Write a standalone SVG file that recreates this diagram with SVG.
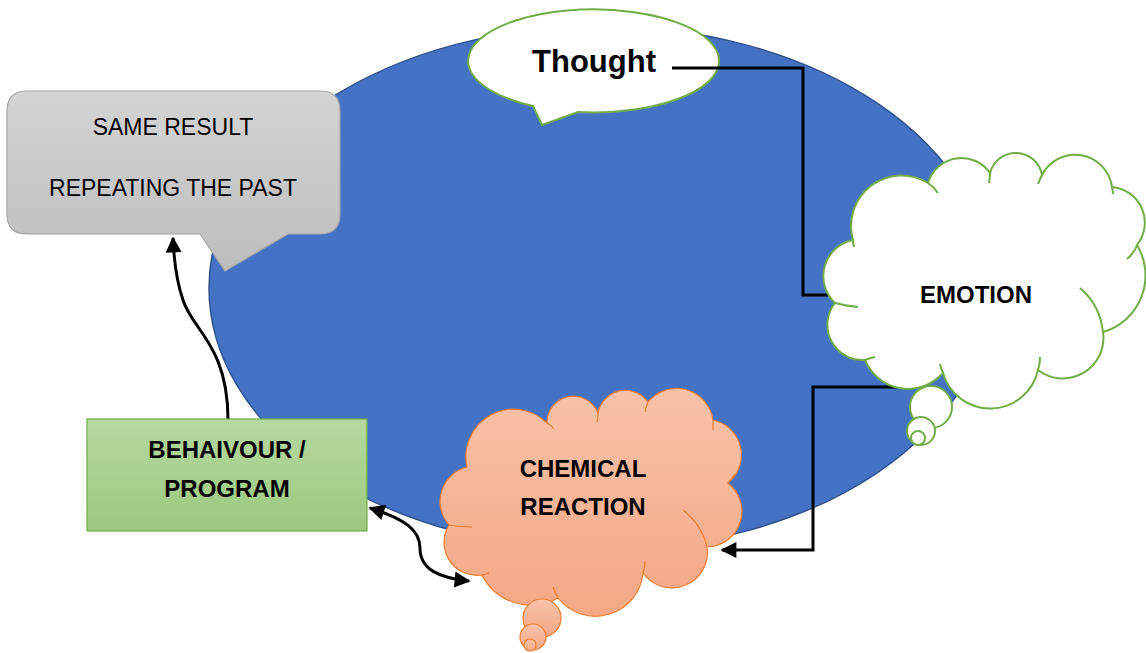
<svg xmlns="http://www.w3.org/2000/svg" width="1146" height="653" viewBox="0 0 1146 653">
<style>
.lbl{font-family:"Liberation Sans",Arial,sans-serif;fill:#000;text-anchor:middle}
.b{font-weight:bold}
.conn{fill:none;stroke:#000;stroke-width:3}
.emo{fill:#fff;stroke:#70AD47;stroke-width:2}
.emoin{fill:none;stroke:#70AD47;stroke-width:2}
.chem{fill:url(#gChem);stroke:#ED7D31;stroke-width:1.2}
.chemin{fill:none;stroke:#ED7D31;stroke-width:1.2}
</style>
<defs>
<linearGradient id="gGray" x1="0" y1="0" x2="0" y2="1"><stop offset="0" stop-color="#D4D4D4"/><stop offset="1" stop-color="#BDBDBD"/></linearGradient>
<linearGradient id="gGreen" x1="0" y1="0" x2="0" y2="1"><stop offset="0" stop-color="#B5D8A0"/><stop offset="1" stop-color="#9BC97E"/></linearGradient>
<linearGradient id="gChem" x1="0" y1="0" x2="0" y2="1"><stop offset="0" stop-color="#F8C2A9"/><stop offset="1" stop-color="#F4A784"/></linearGradient>
<marker id="ah" viewBox="0 0 10 10" refX="9" refY="5" markerUnits="userSpaceOnUse" markerWidth="18" markerHeight="16" orient="auto-start-reverse"><path d="M0,0 L10,5 L0,10 z" fill="#000"/></marker>
</defs>
<rect width="1146" height="653" fill="#fff"/>
<g id="background-ellipse"><ellipse cx="600" cy="288" rx="391" ry="262" fill="#4472C4" stroke="#2F528F" stroke-width="1.5"/></g>
<g id="same-result">
<path d="M27,91 H320 Q340,91 340,111 V214 Q340,234 320,234 H288 L225,271 L200,234 H27 Q7,234 7,214 V111 Q7,91 27,91 Z" fill="url(#gGray)" stroke="#A6A6A6" stroke-width="1.2"/>
<text class="lbl" x="173" y="135" font-size="23">SAME RESULT</text>
<text class="lbl" x="173" y="196" font-size="23">REPEATING THE PAST</text>
</g>
<g id="thought">
<path d="M533,106 A125.5,51.5 0 1 1 578,112 L542,125 Z" fill="#fff" stroke="#70AD47" stroke-width="2" stroke-linejoin="miter"/>
<text class="lbl b" x="594" y="72" font-size="31">Thought</text>
</g>
<g id="connectors">
<polyline class="conn" points="672,68 803,68 803,295 835,295"/>
<polyline class="conn" points="910,387 813,387 813,550 722,550" marker-end="url(#ah)"/>
<path class="conn" d="M228,420 C228,345 192,330 183,300 C176,280 174,262 173,238" marker-end="url(#ah)"/>
<path class="conn" d="M370,508 C405,519 420,530 420,548 C420,570 440,578 469,581" marker-start="url(#ah)" marker-end="url(#ah)"/>
</g>
<g id="behaviour">
<rect x="87" y="419" width="280" height="112" fill="url(#gGreen)" stroke="#70AD47" stroke-width="1.2"/>
<text class="lbl b" x="227" y="458" font-size="24">BEHAIVOUR /</text>
<text class="lbl b" x="227" y="497" font-size="24">PROGRAM</text>
</g>
<g id="emotion">
<path class="emo" d="M853,240 A50.5,50.5 0 0 1 928,183 A34.8,34.8 0 0 1 990,173 A26.6,26.6 0 0 1 1042,175 A37.2,37.2 0 0 1 1112,187 A35.8,35.8 0 0 1 1137,245 A58.9,58.9 0 0 1 1103,332 A40.6,40.6 0 0 1 1038,370 A49,49 0 0 1 943,373 A46.5,46.5 0 0 1 865,360 A35.2,35.2 0 0 1 835,303 A36.8,36.8 0 0 1 853,240 Z"/>
<path class="emoin" d="M928,183 Q934,187 938,193 M990,173 Q990,178 989,183 M1042,175 Q1040,179 1038,184 M1112,187 Q1113,191 1113,194 M1137,245 Q1135,252 1127,259 M1080,288 Q1100,305 1103,332 M1038,370 Q1040,364 1040,357 M943,373 Q941,369 940,364 M865,360 Q870,358 875,357 M835,303 Q846,306 858,307 M853,240 Q853,244 854,247"/>
<circle class="emo" cx="931" cy="407" r="21"/>
<circle class="emo" cx="921" cy="431" r="14"/>
<circle class="emo" cx="918" cy="438" r="7"/>
<text class="lbl b" x="976" y="303" font-size="24">EMOTION</text>
</g>
<g id="chemical-reaction">
<path class="chem" d="M467,467 A47.6,47.6 0 0 1 547,423 A26.4,26.4 0 0 1 598,413 A27.8,27.8 0 0 1 648,402 A36.8,36.8 0 0 1 713,420 A35.8,35.8 0 0 1 728,483 A35.7,35.7 0 0 1 707,547 A35.5,35.5 0 0 1 643,573 A47.7,47.7 0 0 1 558,598 A54.8,54.8 0 0 1 482,575 A33,33 0 0 1 449,525 A35.5,35.5 0 0 1 467,467 Z"/>
<path class="chemin" d="M547,423 Q551,425 554,429 M598,413 Q598,418 597,422 M648,402 Q646,407 645,412 M713,420 Q713,425 713,430 M728,483 Q732,478 735,474 M683,510 Q702,525 707,547 M643,573 Q645,567 645,561 M449,525 Q460,527 472,527 M482,575 Q487,574 489,573 M558,598 Q555,592 553,587"/>
<circle class="chem" cx="542" cy="618" r="19"/>
<circle class="chem" cx="533" cy="637" r="13"/>
<circle class="chem" cx="530" cy="645" r="6"/>
<text class="lbl b" x="583" y="477" font-size="24">CHEMICAL</text>
<text class="lbl b" x="583" y="515" font-size="24">REACTION</text>
</g>
</svg>
